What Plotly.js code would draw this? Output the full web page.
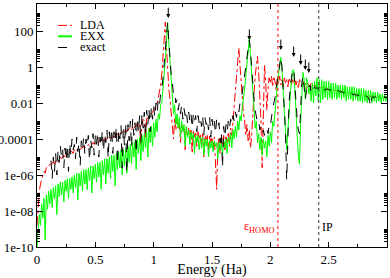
<!DOCTYPE html>
<html>
<head>
<meta charset="utf-8">
<script src="https://cdn.plot.ly/plotly-3.0.1.min.js"></script>
<style>html,body{margin:0;padding:0;background:#fff;}#chart{width:390px;height:278px;}</style>
</head>
<body>
<div id="chart"></div>
<script>
// Energy grid: starts at 0 Ha, step 0.01 Ha (301 samples, 0 .. 3 Ha)
const energyStart = 0;
const energyStep = 0.01;

// log10 of the spectra, one row per 0.1 Ha
const ldaLog = [
-8.8,-7.6,-6.9,-6.5,-6.2,-6.0,-5.8,-5.9,-5.6,-5.5,
-5.5,-5.4,-5.5,-5.3,-5.3,-5.4,-5.2,-5.2,-5.3,-5.1,
-5.0,-5.1,-5.0,-4.9,-5.0,-4.9,-4.8,-4.9,-4.8,-4.7,
-4.7,-4.8,-4.6,-4.7,-4.6,-4.6,-4.5,-4.6,-4.5,-4.5,
-4.4,-4.5,-4.4,-4.4,-4.3,-4.4,-4.3,-4.3,-4.2,-4.3,
-4.2,-4.2,-4.1,-4.2,-4.1,-4.1,-4.0,-4.1,-4.0,-4.0,
-4.0,-3.9,-3.9,-4.0,-3.9,-3.8,-3.9,-3.8,-3.8,-3.7,
-3.8,-3.7,-3.7,-3.6,-3.7,-3.6,-3.5,-3.6,-3.5,-3.4,
-3.4,-3.5,-3.3,-3.4,-3.3,-3.2,-3.3,-3.1,-3.2,-4.4,
-3.1,-2.9,-3.0,-3.9,-2.9,-2.7,-2.8,-2.6,-2.6,-2.5,
-2.4,-2.3,-2.1,-2.0,-1.7,-1.4,-1.0,-0.4,0.5,1.4,
2.5,1.1,-0.2,-1.2,-1.8,-2.6,-3.0,-4.0,-2.8,-3.5,
-2.9,-3.4,-3.1,-4.2,-3.2,-3.6,-3.3,-4.6,-3.4,-3.8,
-3.4,-4.0,-3.5,-4.8,-3.5,-3.9,-3.6,-4.4,-3.6,-4.0,
-3.7,-4.3,-3.7,-5.0,-3.8,-4.1,-3.8,-4.6,-3.8,-4.2,
-3.9,-4.5,-3.9,-5.3,-6.8,-4.4,-3.9,-4.8,-3.9,-4.3,
-3.8,-4.6,-3.8,-4.2,-3.6,-4.4,-3.4,-3.8,-2.9,-2.4,
-1.6,-0.6,0.3,1.05,0.1,-1.0,-1.8,-2.6,-3.0,-3.8,
-3.2,-4.1,-3.5,-4.5,-3.8,-2.9,-1.5,-0.5,0.2,0.6,
-0.3,-1.6,-3.0,-5.6,-1.5,0.1,-0.8,-2.4,-1.2,-0.6,
-0.9,-0.5,-1.1,-0.6,-0.8,-1.3,-0.6,-0.9,-0.5,-1.0,
-0.7,-1.2,-0.6,-0.9,-0.7,-1.1,-0.6,-0.8,-1.0,-0.7,
-0.9,-0.6,-1.0,-0.8,-1.2,-0.7,-0.9,-1.1,-0.8,-1.0,
-0.9,-1.2,-0.9,-1.0,-1.1,-0.9,-1.2,-1.0,-1.1,-1.0,
-1.1,-1.05,-1.15,-1.1,-1.2,-1.15,-1.1,-1.2,-1.15,-1.2,
-1.2,-1.25,-1.2,-1.3,-1.25,-1.3,-1.3,-1.35,-1.3,-1.35,
-1.35,-1.4,-1.35,-1.4,-1.4,-1.45,-1.4,-1.45,-1.45,-1.5,
-1.45,-1.5,-1.5,-1.55,-1.5,-1.55,-1.55,-1.6,-1.55,-1.6,
-1.6,-1.6,-1.55,-1.65,-1.6,-1.65,-1.65,-1.6,-1.65,-1.7,
-1.65,-1.7,-1.65,-1.7,-1.7,-1.65,-1.7,-1.7,-1.7,-1.65,
-1.7
];

const exxLog = [
-10,-9.3,-8.2,-8.8,-7.6,-8.4,-7.3,-9.6,-7.1,-7.9,
-6.9,-7.6,-6.8,-7.8,-6.7,-7.3,-6.6,-8.2,-6.5,-7.2,
-6.4,-7.1,-6.4,-7.5,-6.3,-6.9,-6.2,-7.3,-6.2,-6.8,
-6.1,-7.0,-6.0,-6.7,-5.9,-7.4,-5.9,-6.6,-5.8,-6.9,
-5.7,-6.5,-5.7,-6.8,-5.6,-6.3,-5.5,-7.0,-5.5,-6.2,
-5.4,-6.4,-5.3,-6.1,-5.3,-6.8,-5.2,-6.0,-5.1,-6.5,
-5.1,-5.9,-5.0,-6.2,-4.9,-5.8,-4.9,-6.6,-4.8,-5.7,
-4.7,-5.6,-4.6,-6.0,-4.6,-5.5,-4.5,-5.9,-4.4,-5.3,
-4.3,-5.4,-4.2,-5.0,-4.1,-5.7,-4.0,-4.8,-3.9,-5.2,
-3.8,-4.7,-3.7,-4.5,-3.6,-5.0,-3.4,-4.2,-3.3,-4.4,
-3.1,-3.9,-2.9,-3.6,-2.6,-2.9,-2.1,-2.0,-1.3,-0.6,
0.4,1.4,2.5,1.3,0.2,-1.0,-1.6,-2.6,-2.1,-3.2,
-2.6,-3.4,-2.8,-3.9,-3.0,-3.6,-3.2,-4.4,-3.3,-3.9,
-3.5,-4.3,-3.6,-4.0,-3.7,-4.8,-3.8,-4.2,-3.8,-4.6,
-3.9,-4.5,-3.9,-4.9,-4.0,-4.4,-4.0,-5.0,-4.1,-4.5,
-4.1,-4.7,-4.1,-4.4,-4.2,-5.1,-4.2,-4.6,-4.2,-4.9,
-4.1,-4.5,-4.0,-4.8,-3.9,-4.3,-3.7,-4.5,-3.5,-4.0,
-3.3,-3.9,-3.0,-3.5,-2.7,-3.0,-2.2,-1.8,-1.2,-0.5,
0.3,1.0,1.6,0.6,-0.6,-1.6,-2.3,-3.4,-3.0,-4.2,
-3.7,-4.6,-3.9,-4.9,-4.0,-4.5,-4.1,-5.0,-3.8,-4.4,
-3.6,-4.2,-3.0,-3.3,-2.4,-1.8,-1.0,-0.4,0.2,0.55,
-0.2,-1.5,-2.8,-3.9,-4.6,-3.5,-2.4,-1.5,-0.8,-0.2,
-0.15,-1.2,-2.8,-3.8,-4.9,-5.4,-3.0,-1.4,-0.3,-0.7,
-1.8,-0.6,-0.9,-1.5,-1.1,-1.9,-0.9,-2.0,-0.8,-1.6,
-0.6,-1.9,-0.7,-2.0,-0.7,-1.8,-0.8,-1.7,-0.8,-1.8,
-0.8,-1.7,-0.9,-1.8,-0.9,-1.7,-0.9,-1.8,-1.0,-1.7,
-1.0,-1.8,-1.0,-1.7,-1.0,-1.9,-1.1,-1.8,-1.1,-1.8,
-1.1,-1.9,-1.1,-1.8,-1.2,-1.9,-1.2,-1.9,-1.2,-2.0,
-1.2,-1.9,-1.3,-2.0,-1.3,-1.9,-1.3,-2.0,-1.4,-1.9,
-1.4,-2.0,-1.4,-1.9,-1.5,-2.0,-1.5,-1.9,-1.5,-1.9,
-1.6
];

const exactLog = [
null,null,null,null,null,null,null,null,null,null,
null,null,-5.2,-6.2,-5.0,-5.8,-4.8,-6.0,-4.7,-5.3,
-4.4,-5.0,-4.6,-5.6,-4.5,-5.2,-4.3,-5.8,-4.2,-4.9,
-4.0,-4.6,-4.3,-5.1,-3.9,-4.7,-4.2,-5.5,-4.1,-4.6,
-3.9,-4.8,-4.0,-4.4,-3.8,-5.2,-4.0,-4.5,-3.7,-4.9,
-3.8,-4.3,-3.6,-5.0,-3.9,-4.4,-3.5,-4.7,-3.7,-4.2,
-3.5,-5.1,-3.6,-4.3,-3.4,-4.8,-3.6,-4.1,-3.3,-5.4,
-3.5,-4.0,-3.2,-5.6,-3.4,-4.4,-3.1,-5.9,-3.2,-4.1,
-3.0,-4.5,-2.9,-3.8,-3.1,-4.8,-2.8,-3.6,-2.7,-4.2,
-2.6,-3.4,-2.5,-3.9,-2.4,-3.2,-2.3,-3.6,-2.2,-2.9,
-2.2,-2.8,-2.0,-2.5,-1.8,-2.1,-1.5,-1.2,-0.6,0.2,
0.9,1.6,2.5,1.4,0.4,-0.4,-0.9,-1.5,-1.4,-2.0,
-1.8,-2.4,-2.0,-2.6,-2.1,-2.9,-2.3,-2.7,-2.4,-3.1,
-2.5,-3.0,-2.6,-3.4,-2.6,-3.0,-2.7,-3.6,-2.7,-3.1,
-2.8,-3.3,-2.7,-3.8,-2.8,-3.2,-2.9,-3.5,-2.8,-3.9,
-2.9,-3.4,-3.0,-3.7,-2.9,-3.3,-3.1,-4.2,-3.6,-5.6,
-3.3,-3.9,-3.2,-3.6,-3.0,-3.4,-2.9,-3.2,-2.7,-3.0,
-2.5,-2.8,-2.3,-2.5,-2.0,-1.8,-1.4,-0.9,-0.4,0.3,
0.8,1.2,1.5,0.9,-0.2,-1.0,-1.8,-2.4,-2.7,-3.1,
-3.0,-3.5,-3.3,-3.7,-3.5,-3.8,-3.6,-3.4,-3.7,-3.2,
-3.3,-2.6,-2.3,-2.0,-1.7,-1.2,-0.7,-0.2,0.3,0.55,
0.0,-1.0,-2.0,-3.6,-6.3,-3.5,-2.0,-1.2,-0.6,-0.2,
-0.1,-0.8,-1.9,-2.9,-3.5,-3.7,-2.0,-0.9,-0.5,-1.0,
-1.8,-1.3,-0.9,-1.1,-1.0,-1.4,-1.1,-1.2,-1.1,-1.2,
-1.15,-1.2,-1.1,-1.25,-1.15,-1.2,-1.2,-1.3,-1.2,-1.25,
-1.25,-1.3,-1.25,-1.35,-1.3,-1.3,-1.35,-1.4,-1.3,-1.35,
-1.4,-1.35,-1.4,-1.45,-1.4,-1.45,-1.5,-1.45,-1.5,-1.45,
-1.5,-1.55,-1.5,-1.55,-1.6,-1.55,-1.6,-1.55,-1.6,-1.65,
-1.6,-1.65,-1.6,-1.65,-1.7,-1.9,-2.2,-1.7,-1.65,-1.7,
-1.65,-1.7,-1.65,-1.7,-1.7,-1.65,-1.7,-1.7,-1.65,-1.7,
-1.7
];

const seriesNames = ['LDA', 'EXX', 'exact'];
const seriesColors = ['#ff0000', '#00ff00', '#000000'];
const seriesDash = ['dashdot', 'solid', 'dash'];

// Axis tick labels
const xTickVals = [0, 0.5, 1, 1.5, 2, 2.5, 3];
const xTickText = ['0', '0.5', '1', '1.5', '2', '2.5', '3'];
const xMinorVals = [0.25, 0.75, 1.25, 1.75, 2.25, 2.75];
const yTickVals = [1e-10, 1e-8, 1e-6, 1e-4, 1e-2, 1, 100];
const yTickText = ['1e-10', '1e-08', '1e-06', '0.0001', '0.01', '1', '100'];

// Marked peaks (arrows), energies in Ha and the value at the arrow tip
const arrowE = [1.125, 1.82, 2.09, 2.20, 2.26, 2.30, 2.33];
const arrowTip = [520, 32, 8.7, 3.6, 1.3, 0.68, 0.47];

// Reference energies
const homoE = 2.065;
const ipE = 2.415;

const toVal = a => a.map(v => v === null ? null : Math.pow(10, v));

const yMinor = [];
for (let d = -10; d <= 2; d += 2) {
  for (let k = 2; k <= 10; k++) yMinor.push(k * Math.pow(10, d));
}

const font = 'Liberation Serif';
const logs = [ldaLog, exxLog, exactLog];

const traces = logs.map((arr, i) => ({
  x0: energyStart, dx: energyStep, y: toVal(arr), name: seriesNames[i], type: 'scatter', mode: 'lines',
  line: {color: seriesColors[i], width: 1, dash: seriesDash[i]}, showlegend: false
}));

const annotations = arrowE.map((e, i) => ({
  x: e, y: Math.log10(arrowTip[i]), xref: 'x', yref: 'y', text: '', showarrow: true,
  ax: 0, ay: -12, arrowhead: 2, arrowsize: 0.8, arrowwidth: 1, arrowcolor: '#000'
}));
annotations.push({x: 1.91, y: -8.9, xref: 'x', yref: 'y', text: 'ε<sub>HOMO</sub>', showarrow: false,
  font: {family: font, size: 12, color: '#ff0000'}});
annotations.push({x: 2.49, y: -8.9, xref: 'x', yref: 'y', text: 'IP', showarrow: false,
  font: {family: font, size: 12, color: '#000'}});

// Hand-built legend (compact rows like the original)
const shapes = [
  {type: 'line', xref: 'x', yref: 'paper', x0: homoE, x1: homoE, y0: 0, y1: 1, line: {color: '#ff0000', width: 1, dash: 'dot'}},
  {type: 'line', xref: 'x', yref: 'paper', x0: ipE, x1: ipE, y0: 0, y1: 1, line: {color: '#333', width: 1, dash: 'dot'}}
];
const legX0 = 0.06, legX1 = 0.10, legTextX = 0.118;
const legY = [0.912, 0.867, 0.821];
seriesNames.forEach((n, i) => {
  shapes.push({type: 'line', xref: 'paper', yref: 'paper', x0: legX0, x1: legX1, y0: legY[i], y1: legY[i],
    line: {color: seriesColors[i], width: i === 1 ? 2 : 1, dash: seriesDash[i]}});
  annotations.push({xref: 'paper', yref: 'paper', x: legTextX, y: legY[i], xanchor: 'left', yanchor: 'middle',
    text: n, showarrow: false, font: {family: font, size: 12, color: '#000'}});
});

const layout = {
  width: 390, height: 278,
  margin: {l: 37, r: 3, t: 4, b: 31},
  paper_bgcolor: '#fff', plot_bgcolor: '#fff',
  font: {family: font, size: 13, color: '#000'},
  showlegend: false,
  xaxis: {
    range: [0, 3], showgrid: false, zeroline: false, showline: true, linecolor: '#000', linewidth: 1,
    mirror: 'ticks', ticks: 'inside', ticklen: 5, tickcolor: '#000',
    tickmode: 'array', tickvals: xTickVals, ticktext: xTickText,
    minor: {tickmode: 'array', tickvals: xMinorVals, ticks: 'inside', ticklen: 3, tickcolor: '#000', showgrid: false},
    title: {text: 'Energy (Ha)', font: {family: font, size: 14}, standoff: 5},
    tickfont: {family: font, size: 13}
  },
  yaxis: {
    type: 'log', range: [-10, 3.5], showgrid: false, zeroline: false, showline: true, linecolor: '#000', linewidth: 1,
    mirror: 'ticks', ticks: 'inside', ticklen: 6, tickcolor: '#000',
    tickmode: 'array', tickvals: yTickVals, ticktext: yTickText,
    minor: {tickmode: 'array', tickvals: yMinor, ticks: 'inside', ticklen: 3, tickcolor: '#000', showgrid: false},
    tickfont: {family: font, size: 13}
  },
  shapes: shapes,
  annotations: annotations
};

Plotly.newPlot('chart', traces, layout, {displayModeBar: false, staticPlot: true});
</script>
</body>
</html>
